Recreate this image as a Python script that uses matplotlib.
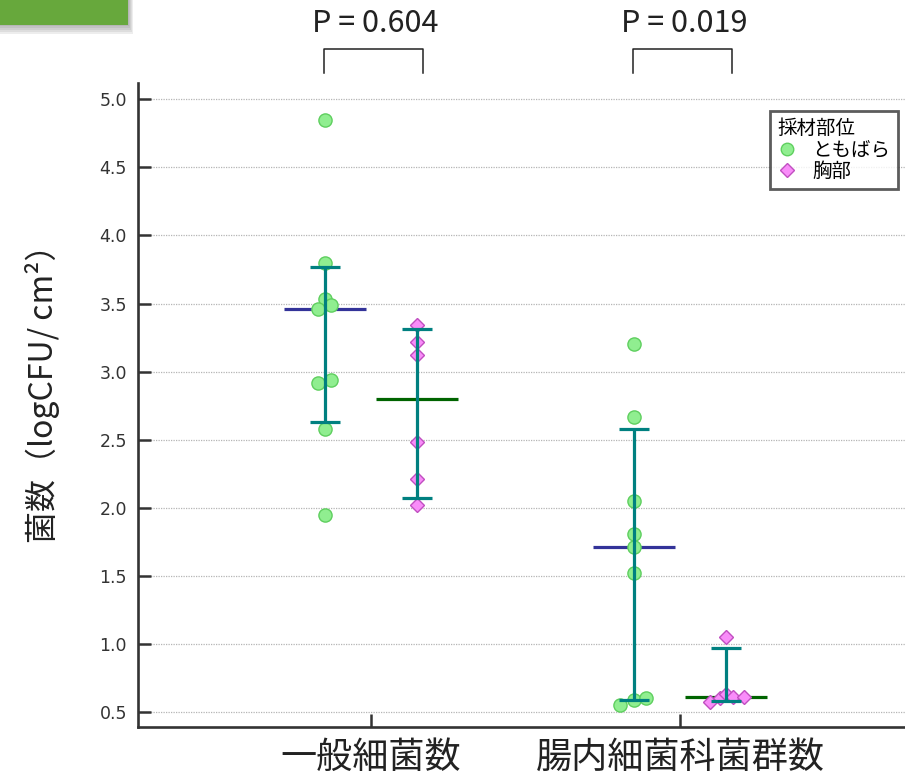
import numpy as np
import matplotlib
matplotlib.use("Agg")
import matplotlib.pyplot as plt
from matplotlib.lines import Line2D
from matplotlib.patches import Rectangle

plt.rcParams['font.family'] = ['Noto Sans CJK JP', 'DejaVu Sans']

# data
categories = ["一般細菌数", "腸内細菌科菌群数"]
sites = ["ともばら", "胸部"]
p_values = ["P = 0.604", "P = 0.019"]

tomobara_general = [4.85, 3.80, 3.53, 3.49, 3.46, 2.92, 2.94, 2.58, 1.95]
chest_general = [3.34, 3.22, 3.12, 2.48, 2.21, 2.02]
tomobara_entero = [3.20, 2.67, 2.05, 1.81, 1.71, 1.52, 0.59, 0.60, 0.55]
chest_entero = [1.05, 0.57, 0.60, 0.63, 0.61, 0.61]

# error bar ends (low, high) for each group
err_general = [(2.63, 3.77), (2.07, 3.31)]
err_entero = [(0.59, 2.58), (0.58, 0.97)]

# horizontal spread of overlapping points
jit_tomo_general = [0, 0, 0, 0.021, -0.021, -0.021, 0.021, 0, 0]
jit_chest_general = [0, 0, 0, 0, 0, 0]
jit_tomo_entero = [0, 0, 0, 0, 0, 0, 0, 0.041, -0.043]
jit_chest_entero = [0, -0.052, -0.02, 0, 0.023, 0.058]

off = 0.15
green_face, green_edge = '#90EE90', '#5fcf5f'
pink_face, pink_edge = '#F98CF9', '#C04FC0'
teal = '#008080'
median_cols = ['#333399', '#006400']

fig = plt.figure(figsize=(9.05, 7.78), dpi=100)
ax = fig.add_axes([138 / 905, 1 - 727 / 778, 767 / 905, (727 - 83) / 778])

groups = [
    (0 - off, tomobara_general, jit_tomo_general, err_general[0], 0),
    (0 + off, chest_general, jit_chest_general, err_general[1], 1),
    (1 - off, tomobara_entero, jit_tomo_entero, err_entero[0], 0),
    (1 + off, chest_entero, jit_chest_entero, err_entero[1], 1),
]

for xc, vals, jit, (lo, hi), site in groups:
    med = np.median(vals)
    ax.plot([xc - 0.133, xc + 0.133], [med, med], color=median_cols[site],
            lw=2.3, zorder=2, solid_capstyle='butt')
    xs = xc + np.array(jit)
    if site == 0:
        ax.plot(xs, vals, 'o', ms=9.5, mfc=green_face, mec=green_edge,
                mew=1.0, ls='none', zorder=3)
    else:
        ax.plot(xs, vals, 'D', ms=7.5, mfc=pink_face, mec=pink_edge,
                mew=1.0, ls='none', zorder=3)
    ax.errorbar([xc], [med], yerr=[[med - lo], [hi - med]], fmt='none',
                ecolor=teal, elinewidth=2.3, capsize=10.6, capthick=2.3,
                zorder=4)

# significance brackets
for i, p in enumerate(p_values):
    x0, x1 = i - 0.152, i + 0.168
    ax.plot([x0, x0, x1, x1], [5.19, 5.368, 5.368, 5.19], color='#222222',
            lw=1.1, clip_on=False)
    ax.text(i + 0.013, 5.56, p, ha='center', va='center', fontsize=22,
            color='#222222', clip_on=False)

ax.set_xlim(-0.754, 1.728)
ax.set_ylim(0.39, 5.12)
ax.set_xticks([0, 1])
ax.set_xticklabels(categories, fontsize=26, color='#222222')
ax.set_yticks(np.arange(0.5, 5.01, 0.5))
ax.set_yticklabels([f"{v:.1f}" for v in np.arange(0.5, 5.01, 0.5)],
                   family='DejaVu Sans', fontsize=12.5, color='#333333')
ax.tick_params(axis='both', direction='in', length=9.5, width=1.8,
               color='#333333')
ax.tick_params(axis='y', pad=8)
ax.tick_params(axis='x', pad=9)
ax.yaxis.grid(True, linestyle=(0, (1, 1)), color='#b5b5b5', lw=0.9)
ax.set_axisbelow(True)
for s in ['top', 'right']:
    ax.spines[s].set_visible(False)
for s in ['left', 'bottom']:
    ax.spines[s].set_linewidth(1.9)
    ax.spines[s].set_color('#333333')

fig.text(42 / 905, 1 - 386 / 778, "菌数（logCFU/ cm²）", rotation=90,
         ha='center', va='center', fontsize=23, color='#222222')

handles = [
    Line2D([], [], marker='o', ls='none', ms=9, mfc=green_face, mec=green_edge),
    Line2D([], [], marker='D', ls='none', ms=7.5, mfc=pink_face, mec=pink_edge),
]
leg = ax.legend(handles, sites, title="採材部位", loc='upper right',
                bbox_to_anchor=(0.991, 0.957), fontsize=14,
                title_fontsize=14, frameon=True, fancybox=False,
                borderpad=0.4, labelspacing=0.0, handletextpad=0.8,
                handlelength=1.0, borderaxespad=0)
leg._legend_box.align = 'left'
leg.get_frame().set_edgecolor('#333333')
leg.get_frame().set_linewidth(2.0)

# green tab in the top left corner with a soft shadow
for k in range(5):
    fig.patches.append(Rectangle((0, 1 - (26 + 2 * k) / 778),
                                 (129 + k) / 905, (26 + 2 * k) / 778,
                                 transform=fig.transFigure, color='#555555',
                                 alpha=0.1, lw=0, zorder=0))
fig.patches.append(Rectangle((0, 1 - 25 / 778), 128 / 905, 25 / 778,
                             transform=fig.transFigure, color='#67a83c',
                             lw=0, zorder=1))

fig.savefig("out.png", dpi=100)
